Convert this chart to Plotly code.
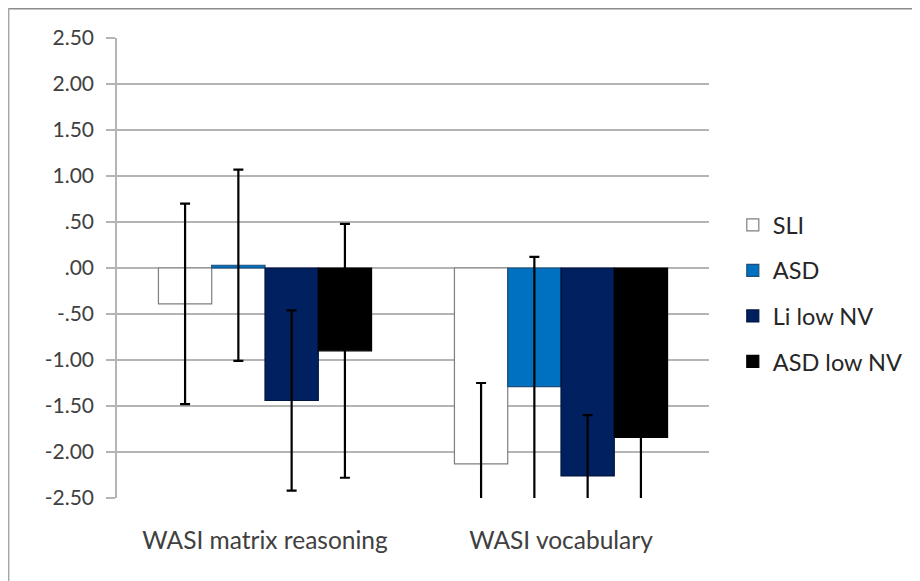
import plotly.graph_objects as go

categories = ["WASI matrix reasoning", "WASI vocabulary"]
series_names = ["SLI", "ASD", "Li low NV", "ASD low NV"]
sli_values = [-0.39, -2.13]
asd_values = [0.03, -1.29]
li_low_nv_values = [-1.44, -2.26]
asd_low_nv_values = [-0.90, -1.84]
sli_err = [1.09, 0.88]
asd_err = [1.04, 1.41]
li_low_nv_err = [0.98, 0.66]
asd_low_nv_err = [1.38, 1.00]
y_ticks = [2.5, 2.0, 1.5, 1.0, 0.5, 0.0, -0.5, -1.0, -1.5, -2.0, -2.5]
y_tick_labels = ["2.50", "2.00", "1.50", "1.00", ".50", ".00", "-.50", "-1.00", "-1.50", "-2.00", "-2.50"]

values = [sli_values, asd_values, li_low_nv_values, asd_low_nv_values]
errors = [sli_err, asd_err, li_low_nv_err, asd_low_nv_err]
fills = ["#FFFFFF", "#0070C0", "#002060", "#000000"]
outlines = ["#7F7F7F", "#1F4E79", "#001540", "#000000"]

FONT = "Lato, Carlito, Calibri, sans-serif"

fig = go.Figure()
for name, v, e, fc, lc in zip(series_names, values, errors, fills, outlines):
    fig.add_trace(go.Bar(
        x=categories, y=v, name=name,
        legendgroup=name,
        marker=dict(color=fc, line=dict(color=lc, width=1.2)),
        error_y=dict(type="data", array=e, visible=True,
                     color="#000000", thickness=2.2, width=5),
    ))

# page has an 8px body margin, so work in page pixels minus 8
OFF = 8
W, H = 920 - OFF, 581 - OFF
L, R, T, B = 117 - OFF, 920 - 714, 38 - OFF, 581 - 498
pw = W - L - R
ph = H - T - B

def px_x(p):
    return (p - OFF - L) / pw

def px_y(p):
    return (H - B - (p - OFF)) / ph

fig.update_layout(
    width=W, height=H,
    margin=dict(l=L, r=R, t=T, b=B),
    paper_bgcolor="white", plot_bgcolor="white",
    barmode="group", bargap=0.28, bargroupgap=0,
    font=dict(family=FONT, size=23, color="#404040"),
    legend=dict(x=px_x(738), y=px_y(203), xanchor="left", yanchor="top",
                font=dict(family=FONT, size=23.5, color="#262626"),
                tracegroupgap=12, bgcolor="rgba(0,0,0,0)"),
    showlegend=True,
    xaxis=dict(showgrid=False, showline=False, zeroline=False, ticks="",
               ticklabelstandoff=25,
               tickfont=dict(size=24.5, color="#404040")),
    yaxis=dict(range=[-2.5, 2.5], tickvals=y_ticks, ticktext=y_tick_labels,
               showgrid=True, gridcolor="#B4B4B4", gridwidth=1.5,
               zeroline=False, showline=True, linecolor="#B4B4B4", linewidth=1.5,
               ticks="outside", ticklen=9, tickcolor="#B4B4B4", tickwidth=1.5,
               ticklabelstandoff=8,
               tickfont=dict(size=21, color="#404040")),
    shapes=[
        dict(type="line", xref="paper", yref="paper",
             x0=px_x(6), x1=px_x(930), y0=px_y(8), y1=px_y(8),
             line=dict(color="#8C8C8C", width=3)),
        dict(type="line", xref="paper", yref="paper",
             x0=px_x(7), x1=px_x(7), y0=px_y(7), y1=px_y(600),
             line=dict(color="#A6A6A6", width=3)),
    ],
)

fig.write_html("out.html")
